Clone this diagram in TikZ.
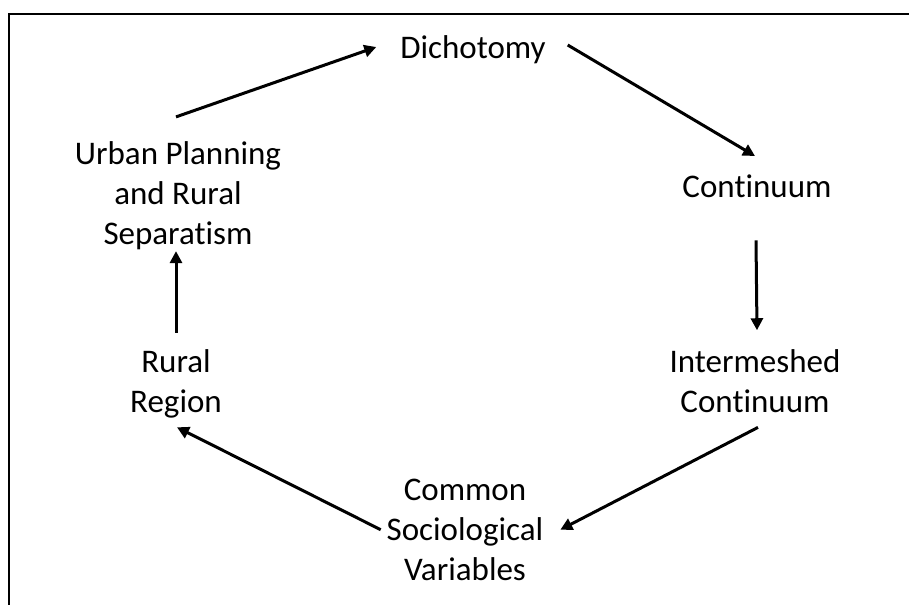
\documentclass[tikz,border=0pt]{standalone}
\usepackage{fontspec}
\setmainfont{Carlito}[Ligatures={NoCommon,NoRare,NoContextual}]
\usetikzlibrary{arrows.meta}
\begin{document}
\begin{tikzpicture}[x=1pt,y=-1pt,
  lbl/.style={align=center,inner sep=0pt,outer sep=0pt,font=\fontsize{33}{40}\selectfont},
  flow/.style={line width=3pt,-{Triangle[length=12pt,width=12pt]}}]
  \useasboundingbox (0,0) rectangle (909,605);
  % frame (top and left edges)
  \draw[line width=2.2pt] (909,14) -- (9,14) -- (9,605);

  % stages of the cycle
  \node[lbl] (dich)  at (473,50)    {Dichotomy};
  \node[lbl] (cont)  at (757,186)   {Continuum};
  \node[lbl] (inter) at (755,380.8) {Intermeshed\\Continuum};
  \node[lbl] (comm)  at (465,529.7) {Common\\Sociological\\Variables};
  \node[lbl] (rural) at (176,384)   {Rural\\Region};
  \node[lbl] (urban) at (178,196)   {Urban Planning\\and Rural\\Separatism};

  % arrows around the cycle
  \draw[flow] ([shift={(-2,-25)}]urban.north) -- ([shift={(-24,-3)}]dich.west);
  \draw[flow] ([shift={(22,-5)}]dich.east) -- ([shift={(-2,-18.5)}]cont.north);
  \draw[flow] ([shift={(-1,43)}]cont.south) -- ([shift={(2,-19)}]inter.north);
  \draw[flow] ([shift={(3,15)}]inter.south) -- ([shift={(17,0)}]comm.east);
  \draw[flow] ([shift={(-6,0)}]comm.west) -- ([shift={(1,9)}]rural.south);
  \draw[flow] ([shift={(0,-17)}]rural.north) -- ([shift={(-2,1)}]urban.south);
\end{tikzpicture}
\end{document}
